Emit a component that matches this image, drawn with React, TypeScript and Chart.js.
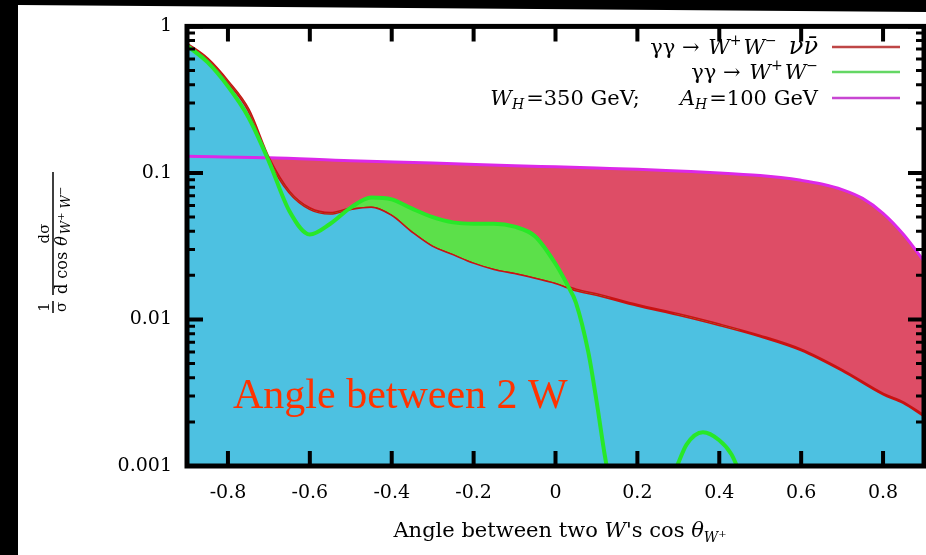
import React, { useEffect, useRef } from 'react';
import { Chart, registerables } from 'chart.js';
Chart.register(...registerables);

// ---- axis ticks ----
const xTickValues = [-0.8, -0.6, -0.4, -0.2, 0, 0.2, 0.4, 0.6, 0.8];
const xTickLabels = ['-0.8', '-0.6', '-0.4', '-0.2', '0', '0.2', '0.4', '0.6', '0.8'];
const yTickValues = [0.001, 0.01, 0.1, 1];
const yTickLabels = ['0.001', '0.01', '0.1', '1'];
const yMinorMultipliers = [2, 3, 4, 5, 6, 7, 8, 9];

// ---- series: gamma gamma -> W+W- nu nubar (red) ----
const redX = [-0.9, -0.85, -0.8, -0.75, -0.7, -0.65, -0.6, -0.55, -0.5, -0.45, -0.4, -0.35, -0.3, -0.25, -0.2, -0.15, -0.1, -0.05, 0, 0.05, 0.1, 0.2, 0.3, 0.4, 0.5, 0.6, 0.7, 0.8, 0.85, 0.9];
const redY = [0.76, 0.6, 0.42, 0.27, 0.125, 0.074, 0.057, 0.053, 0.057, 0.059, 0.052, 0.04, 0.032, 0.028, 0.0245, 0.0222, 0.0208, 0.0193, 0.0178, 0.0159, 0.0148, 0.0125, 0.0108, 0.0092, 0.0077, 0.0062, 0.0045, 0.0031, 0.0027, 0.0022];

// ---- series: gamma gamma -> W+W- (green) ----
const greenX = [-0.9, -0.85, -0.8, -0.75, -0.7, -0.65, -0.6, -0.55, -0.5, -0.45, -0.4, -0.35, -0.3, -0.25, -0.2, -0.15, -0.1, -0.05, 0, 0.03, 0.05, 0.08, 0.1, 0.12, 0.135, 0.2, 0.29, 0.3, 0.32, 0.36, 0.4, 0.43, 0.45];
const greenY = [0.74, 0.57, 0.39, 0.24, 0.12, 0.055, 0.038, 0.045, 0.058, 0.068, 0.066, 0.057, 0.05, 0.046, 0.045, 0.045, 0.043, 0.037, 0.024, 0.017, 0.013, 0.006, 0.0028, 0.0012, 0.0007, null, 0.0009, 0.00105, 0.0014, 0.0017, 0.0015, 0.0012, 0.0009];

// ---- series: W_H = 350 GeV; A_H = 100 GeV (magenta) ----
const magX = [-0.9, -0.7, -0.5, -0.3, -0.1, 0, 0.1, 0.2, 0.3, 0.4, 0.5, 0.55, 0.6, 0.65, 0.7, 0.75, 0.8, 0.85, 0.9];
const magY = [0.13, 0.127, 0.121, 0.117, 0.112, 0.11, 0.108, 0.106, 0.103, 0.1, 0.096, 0.093, 0.089, 0.084, 0.077, 0.067, 0.053, 0.038, 0.025];

const COLORS = {
  cyan: 'rgb(77,193,225)',
  redFill: 'rgb(222,77,102)',
  greenFill: 'rgb(92,224,74)',
  redLine: 'rgb(200,18,18)',
  greenLine: 'rgb(40,232,40)',
  magLine: 'rgb(220,40,232)',
  redLegend: 'rgb(190,70,70)',
  greenLegend: 'rgb(100,215,100)',
  magLegend: 'rgb(200,70,210)',
};

const SERIF = "'DejaVu Serif'";

type Run = { t: string; size?: number; italic?: boolean; dy?: number; gap?: number };

function measureRuns(ctx: CanvasRenderingContext2D, runs: Run[], base: number) {
  let w = 0;
  for (const r of runs) {
    ctx.font = `${r.italic ? 'italic ' : ''}${r.size || base}px ${SERIF}`;
    w += ctx.measureText(r.t).width + (r.gap || 0);
  }
  return w;
}

function drawRuns(ctx: CanvasRenderingContext2D, runs: Run[], x: number, y: number, align: string, base: number, color: string) {
  const w = measureRuns(ctx, runs, base);
  let cx = align === 'right' ? x - w : align === 'center' ? x - w / 2 : x;
  ctx.fillStyle = color;
  ctx.textAlign = 'left';
  ctx.textBaseline = 'alphabetic';
  for (const r of runs) {
    ctx.font = `${r.italic ? 'italic ' : ''}${r.size || base}px ${SERIF}`;
    ctx.fillText(r.t, cx, y + (r.dy || 0));
    cx += ctx.measureText(r.t).width + (r.gap || 0);
  }
}

const legendRows: { runs: Run[]; color: string }[] = [
  {
    runs: [
      { t: 'γγ → ', gap: 2 }, { t: 'W', italic: true }, { t: '+', size: 14, dy: -9, gap: 2 },
      { t: 'W', italic: true }, { t: '−', size: 14, dy: -9, gap: 12 }, { t: 'νν̄', italic: true, size: 24 },
    ],
    color: COLORS.redLegend,
  },
  {
    runs: [
      { t: 'γγ → ', gap: 2 }, { t: 'W', italic: true }, { t: '+', size: 14, dy: -9, gap: 2 },
      { t: 'W', italic: true }, { t: '−', size: 14, dy: -9 },
    ],
    color: COLORS.greenLegend,
  },
  {
    runs: [
      { t: 'W', italic: true }, { t: 'H', italic: true, size: 14, dy: 4, gap: 2 }, { t: '=350 GeV;      ' },
      { t: 'A', italic: true }, { t: 'H', italic: true, size: 14, dy: 4, gap: 2 }, { t: '=100 GeV' },
    ],
    color: COLORS.magLegend,
  },
];

const decorPlugin = {
  id: 'decor',
  beforeDraw(chart: any) {
    const ctx = chart.ctx as CanvasRenderingContext2D;
    const W = chart.width, H = chart.height;
    ctx.save();
    ctx.fillStyle = '#000';
    ctx.fillRect(0, 0, W, H);
    ctx.fillStyle = '#fff';
    ctx.beginPath();
    ctx.moveTo(18, 5);
    ctx.lineTo(W, 12);
    ctx.lineTo(W, H);
    ctx.lineTo(18, H);
    ctx.closePath();
    ctx.fill();
    ctx.restore();
  },
  afterDatasetsDraw(chart: any) {
    const ctx = chart.ctx as CanvasRenderingContext2D;
    const { left, right, top, bottom } = chart.chartArea;
    const xs = chart.scales.x, ys = chart.scales.y;
    ctx.save();
    ctx.strokeStyle = '#000';
    // ticks
    ctx.lineWidth = 4;
    for (const v of xTickValues) {
      const px = xs.getPixelForValue(v);
      ctx.beginPath();
      ctx.moveTo(px, bottom); ctx.lineTo(px, bottom - 15);
      ctx.moveTo(px, top); ctx.lineTo(px, top + 15);
      ctx.stroke();
    }
    for (const v of yTickValues) {
      const py = ys.getPixelForValue(v);
      ctx.beginPath();
      ctx.moveTo(left, py); ctx.lineTo(left + 16, py);
      ctx.moveTo(right, py); ctx.lineTo(right - 16, py);
      ctx.stroke();
    }
    ctx.lineWidth = 3;
    for (let d = 0; d < yTickValues.length - 1; d++) {
      for (const m of yMinorMultipliers) {
        const py = ys.getPixelForValue(yTickValues[d] * m);
        ctx.beginPath();
        ctx.moveTo(left, py); ctx.lineTo(left + 8, py);
        ctx.moveTo(right, py); ctx.lineTo(right - 8, py);
        ctx.stroke();
      }
    }
    // frame
    ctx.lineWidth = 5;
    ctx.strokeRect(left, top, right - left, bottom - top);

    // legend
    const rowY = [47, 72, 98];
    legendRows.forEach((row, i) => {
      drawRuns(ctx, row.runs, 818, rowY[i] + 7, 'right', 21, '#000');
      ctx.strokeStyle = row.color;
      ctx.lineWidth = 2.5;
      ctx.beginPath();
      ctx.moveTo(832, rowY[i]); ctx.lineTo(900, rowY[i]);
      ctx.stroke();
    });

    // annotation
    ctx.fillStyle = '#ff3300';
    ctx.font = "42px 'Liberation Serif'";
    ctx.textAlign = 'left';
    ctx.textBaseline = 'alphabetic';
    ctx.fillText('Angle between 2 W', 233, 408);

    // x title
    drawRuns(ctx, [
      { t: 'Angle between two ' }, { t: 'W', italic: true }, { t: "'s cos " }, { t: 'θ', italic: true },
      { t: 'W', italic: true, size: 14, dy: 5 }, { t: '+', size: 10, dy: 0 },
    ], 560, 537, 'center', 21, '#000');

    // y title (rotated)
    ctx.save();
    ctx.translate(53, 313);
    ctx.rotate(-Math.PI / 2);
    ctx.fillStyle = '#000';
    ctx.font = `15px ${SERIF}`;
    ctx.textAlign = 'center';
    ctx.fillText('1', 6, -4);
    ctx.fillText('σ', 6, 13);
    ctx.fillRect(0, -0.75, 12, 1.5);
    ctx.fillRect(18, -0.75, 123, 1.5);
    ctx.fillText('dσ', 79.5, -4);
    ctx.restore();
    ctx.save();
    ctx.translate(53, 313);
    ctx.rotate(-Math.PI / 2);
    drawRuns(ctx, [
      { t: 'd cos ', gap: 1 }, { t: 'θ', italic: true, gap: 2 },
      { t: 'W', italic: true, size: 13, dy: 3 }, { t: '+', size: 10, dy: -3, gap: 4 },
      { t: 'W', italic: true, size: 13, dy: 3 }, { t: '−', size: 10, dy: -3 },
    ], 19, 14, 'left', 16, '#000');
    ctx.restore();

    ctx.restore();
  },
};

function pts(xs: number[], ys: (number | null)[]) {
  return xs.map((x, i) => ({ x, y: ys[i] }));
}

export default function App() {
  const ref = useRef<HTMLCanvasElement>(null);
  useEffect(() => {
    if (!ref.current) return;
    const chart = new Chart(ref.current, {
      type: 'line',
      data: {
        datasets: [
          {
            label: 'green',
            data: pts(greenX, greenY),
            borderColor: COLORS.greenLine,
            borderWidth: 4,
            fill: { target: 1, above: COLORS.greenFill, below: 'rgba(0,0,0,0)' },
            spanGaps: false,
          },
          {
            label: 'red',
            data: pts(redX, redY),
            borderColor: COLORS.redLine,
            borderWidth: 3,
            fill: false,
          },
          {
            label: 'magenta',
            data: pts(magX, magY),
            borderColor: COLORS.magLine,
            borderWidth: 3,
            fill: { target: 1, above: COLORS.redFill, below: 'rgba(0,0,0,0)' },
          },
          {
            label: 'cyan',
            data: pts(redX, redY),
            borderColor: 'rgba(0,0,0,0)',
            borderWidth: 0,
            backgroundColor: COLORS.cyan,
            fill: 'start',
          },
        ],
      } as any,
      options: {
        responsive: false,
        animation: false,
        devicePixelRatio: 1,
        layout: { padding: { top: 19, right: 2, left: 0, bottom: 0 } },
        elements: { point: { radius: 0 }, line: { cubicInterpolationMode: 'monotone' } },
        plugins: { legend: { display: false }, tooltip: { enabled: false } },
        scales: {
          x: {
            type: 'linear',
            min: -0.9,
            max: 0.9,
            grid: { display: false, drawTicks: false },
            border: { display: false },
            afterBuildTicks: (s: any) => { s.ticks = xTickValues.map((v) => ({ value: v })); },
            afterFit: (s: any) => { s.height = 89; },
            ticks: {
              padding: 16,
              color: '#000',
              maxRotation: 0,
              autoSkip: false,
              font: { family: SERIF, size: 19 },
              callback: (_v: any, i: number) => xTickLabels[i],
            },
          },
          y: {
            type: 'logarithmic',
            min: 0.001,
            max: 1,
            grid: { display: false, drawTicks: false },
            border: { display: false },
            afterBuildTicks: (s: any) => { s.ticks = yTickValues.map((v) => ({ value: v })); },
            afterFit: (s: any) => { s.width = 187; },
            ticks: {
              padding: 15,
              color: '#000',
              autoSkip: false,
              font: { family: SERIF, size: 19 },
              callback: (_v: any, i: number) => yTickLabels[i],
            },
          },
        },
      } as any,
      plugins: [decorPlugin],
    });
    return () => chart.destroy();
  }, []);
  return (
    <div style={{ position: 'fixed', left: 0, top: 0, width: 926, height: 555, background: '#000' }}>
      <canvas ref={ref} width={926} height={555} style={{ display: 'block', width: 926, height: 555 }} />
    </div>
  );
}
